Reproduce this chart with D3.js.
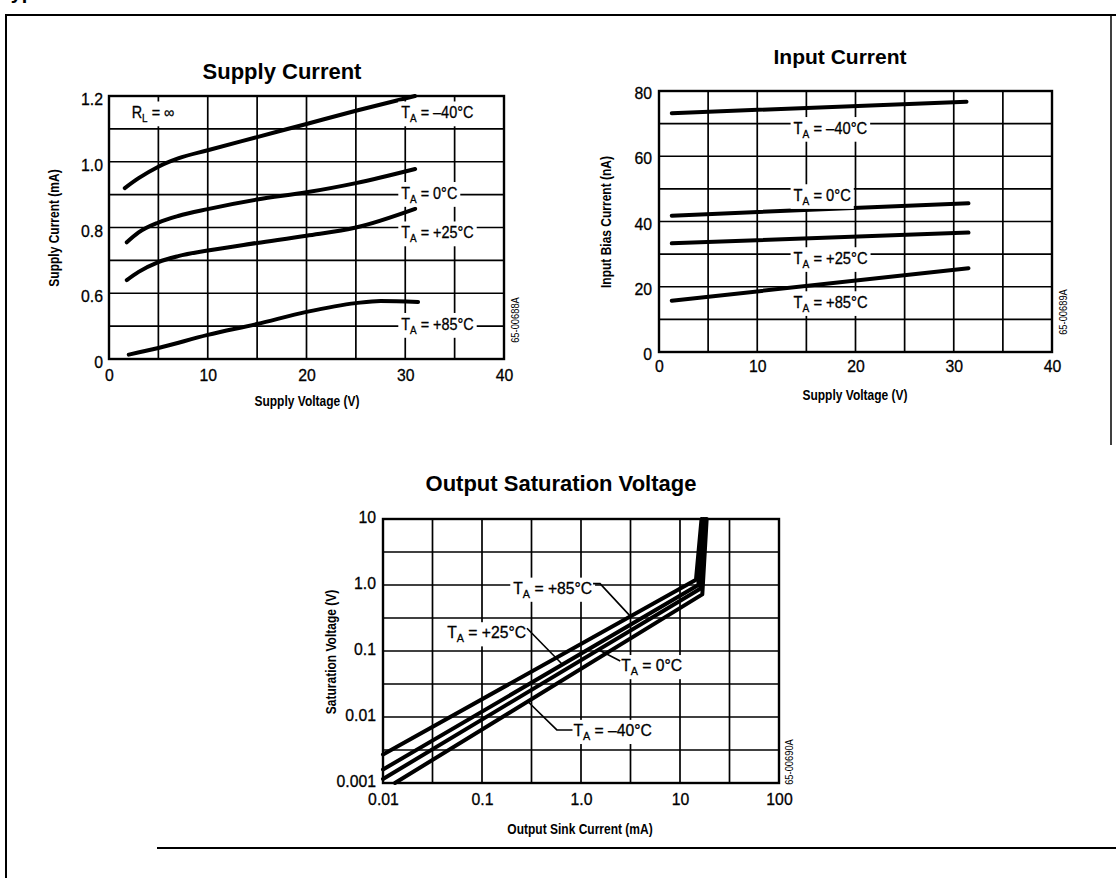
<!DOCTYPE html>
<html>
<head>
<meta charset="utf-8">
<script src="https://cdn.jsdelivr.net/npm/d3@7"></script>
<style>
  body { margin: 0; background: #fff; }
  svg { display: block; }
</style>
</head>
<body>
<svg id="sheet" width="1116" height="878"></svg>
<script>
// ---------- Supply current vs supply voltage (R_L = ∞) ----------
const supplyVoltageTicks = [0, 10, 20, 30, 40];
const supplyVoltageGrid = [5, 10, 15, 20, 25, 30, 35];
const supplyCurrentTicks = [0, 0.6, 0.8, 1.0, 1.2];
const supplyCurrentTickLabels = ["0", "0.6", "0.8", "1.0", "1.2"];
const supplyCurrentGrid = [0.3, 0.6, 0.7, 0.8, 0.9, 1.0, 1.1];
const supplyM40 = [[1.6, 0.92], [3, 0.95], [5, 0.985], [7, 1.01], [10, 1.035], [15, 1.075], [20, 1.115], [25, 1.155], [31, 1.2]];
const supply0 = [[1.8, 0.755], [3, 0.785], [5, 0.815], [7, 0.835], [10, 0.856], [15, 0.885], [20, 0.907], [25, 0.935], [31, 0.978]];
const supplyP25 = [[1.8, 0.64], [3, 0.665], [5, 0.695], [7, 0.713], [10, 0.73], [15, 0.753], [20, 0.775], [25, 0.8], [31, 0.857]];
const supplyP85 = [[2, 0.04], [5, 0.1], [10, 0.22], [15, 0.32], [20, 0.43], [25, 0.51], [27.5, 0.53], [31.3, 0.52]];

// ---------- Input bias current vs supply voltage ----------
const biasCurrentTicks = [0, 20, 40, 60, 80];
const biasCurrentGrid = [10, 20, 30, 40, 50, 60, 70];
const biasM40 = [[1.3, 73.2], [31.3, 76.7]];
const bias0 = [[1.3, 41.8], [31.5, 45.6]];
const biasP25 = [[1.3, 33.3], [31.5, 36.6]];
const biasP85 = [[1.3, 15.7], [31.5, 25.7]];

// ---------- Output saturation voltage vs sink current ----------
const sinkCurrentTicks = [0.01, 0.1, 1, 10, 100];
const sinkCurrentTickLabels = ["0.01", "0.1", "1.0", "10", "100"];
const satVoltageTicks = [0.001, 0.01, 0.1, 1, 10];
const satVoltageTickLabels = ["0.001", "0.01", "0.1", "1.0", "10"];
const satP85 = [[0.01, 0.0027], [14.5, 1.2], [16.5, 10]];
const satP25 = [[0.01, 0.0016], [15.3, 1.0], [17.2, 10]];
const sat0 = [[0.01, 0.00115], [16, 0.88], [17.9, 10]];
const satM40 = [[0.0132, 0.001], [16.8, 0.72], [18.6, 10]];

const temps = ["–40°C", "0°C", "+25°C", "+85°C"];

const SANS = '"Liberation Sans",Arial,Helvetica,sans-serif';

const svg = d3.select("#sheet");

// squeeze a text horizontally about its own anchor point
function condense(sel, sx) {
  sel.each(function () {
    const t = d3.select(this);
    const x = +(t.attr("x") || 0), y = +(t.attr("y") || 0);
    t.attr("transform", `translate(${x},${y}) scale(${sx},1) translate(${-x},${-y})`);
  });
}
// slightly heavier strokes, like the printed sheet
const ink = sel => sel.attr("stroke", "#000").attr("stroke-width", 0.3);

// page frame of the characteristics section
svg.append("text").attr("x", 0).attr("y", -1)
  .attr("font-family", SANS).attr("font-weight", "bold").attr("font-size", 20)
  .text("Typical Performance Characteristics");
svg.append("path").attr("d", "M6,878V15H1116").attr("fill", "none").attr("stroke", "#000").attr("stroke-width", 2);
svg.append("path").attr("d", "M1111,15V445").attr("fill", "none").attr("stroke", "#000").attr("stroke-width", 1.5);
svg.append("path").attr("d", "M157,848H1116").attr("fill", "none").attr("stroke", "#000").attr("stroke-width", 2);

function drawGrid(g, x, y, xs, ys) {
  const [xa, xb] = d3.extent(x.range());
  const [ya, yb] = d3.extent(y.range());
  g.append("g").selectAll("line").data(xs).join("line")
    .attr("x1", d => x(d)).attr("x2", d => x(d)).attr("y1", ya).attr("y2", yb)
    .attr("stroke", "#000").attr("stroke-width", 1.7);
  g.append("g").selectAll("line").data(ys).join("line")
    .attr("x1", xa).attr("x2", xb).attr("y1", d => y(d)).attr("y2", d => y(d))
    .attr("stroke", "#000").attr("stroke-width", 1.7);
}

function drawFrame(g, x, y) {
  const [xa, xb] = d3.extent(x.range());
  const [ya, yb] = d3.extent(y.range());
  g.append("rect").attr("x", xa).attr("y", ya).attr("width", xb - xa).attr("height", yb - ya)
    .attr("fill", "none").attr("stroke", "#000").attr("stroke-width", 2.4);
}

function drawAxes(g, x, y, xTicks, xFmt, yTicks, yFmt, xPad, yPad, yDy) {
  const [ya, yb] = d3.extent(y.range());
  const [xa] = d3.extent(x.range());
  const ax = g.append("g").attr("transform", `translate(0,${yb})`)
    .call(d3.axisBottom(x).tickValues(xTicks).tickFormat(xFmt).tickSize(0).tickPadding(xPad));
  const ay = g.append("g").attr("transform", `translate(${xa},0)`)
    .call(d3.axisLeft(y).tickValues(yTicks).tickFormat(yFmt).tickSize(0).tickPadding(yPad));
  [ax, ay].forEach(a => {
    a.select(".domain").remove();
    a.selectAll("text").attr("font-family", SANS).attr("font-size", 17).attr("fill", "#000")
      .call(ink).call(condense, 0.93);
  });
  ay.selectAll("text").attr("dy", yDy);
}

function drawSeries(g, x, y, series, curve) {
  const line = d3.line().x(d => x(d[0])).y(d => y(d[1])).curve(curve);
  g.append("g").selectAll("path").data(series).join("path")
    .attr("d", line).attr("fill", "none").attr("stroke", "#000")
    .attr("stroke-width", 4).attr("stroke-linecap", "round").attr("stroke-linejoin", "round");
}

// label with subscript, on a white patch that hides the grid behind it
function tagLabel(g, px, py, main, sub, rest, sx) {
  const holder = g.append("g").attr("transform", `translate(${px},${py}) scale(${sx},1)`);
  const t = holder.append("text").attr("dy", "0.36em")
    .attr("font-family", SANS).attr("font-size", 16).attr("fill", "#000").call(ink);
  t.append("tspan").text(main);
  if (sub) t.append("tspan").attr("font-size", 11).attr("dy", 4).text(sub);
  t.append("tspan").attr("dy", sub ? -4 : 0).text(rest);
  const b = t.node().getBBox();
  holder.insert("rect", () => t.node())
    .attr("x", b.x - 3 / sx).attr("y", b.y - 2).attr("width", b.width + 6 / sx).attr("height", b.height + 4)
    .attr("fill", "#fff");
  return { x: px + b.x * sx, y: py + b.y, width: b.width * sx, height: b.height };
}

function titles(g, title, tx, ty, tSize, xTitle, xx, xy, yTitle, yx, yy, code, cx, cy) {
  g.append("text").attr("x", tx).attr("y", ty).attr("text-anchor", "middle")
    .attr("font-family", SANS).attr("font-weight", "bold").attr("font-size", tSize).text(title);
  g.append("text").attr("x", xx).attr("y", xy).attr("text-anchor", "middle").attr("dy", "0.35em")
    .attr("font-family", SANS).attr("font-weight", "bold").attr("font-size", 15).text(xTitle)
    .call(condense, 0.8);
  g.append("text").attr("transform", `translate(${yx},${yy}) rotate(-90) scale(0.8,1)`).attr("text-anchor", "middle")
    .attr("dy", "0.35em").attr("font-family", SANS).attr("font-weight", "bold").attr("font-size", 15).text(yTitle);
  g.append("text").attr("transform", `translate(${cx},${cy}) rotate(-90) scale(0.85,1)`).attr("text-anchor", "middle")
    .attr("dy", "0.35em").attr("font-family", SANS).attr("font-size", 11).text(code);
}

// ---------- Supply Current ----------
{
  const g = svg.append("g");
  const x = d3.scaleLinear().domain([0, 40]).range([109, 504]);
  // axis jumps from 0 to 0.6 over two grid divisions
  const y = d3.scaleLinear().domain([0, 0.6, 1.2]).range([359, 359 - 2 * 263 / 8, 96]);
  drawGrid(g, x, y, supplyVoltageGrid, supplyCurrentGrid);
  drawSeries(g, x, y, [supplyM40, supply0, supplyP25, supplyP85], d3.curveMonotoneX);
  drawAxes(g, x, y, supplyVoltageTicks, d3.format("d"),
    supplyCurrentTicks, (d, i) => supplyCurrentTickLabels[i], 10, 6, "0.5em");
  tagLabel(g, x(2.3), y(1.15), "R", "L", " = ∞", 0.9);
  const pos = [1.15, 0.905, 0.785, 0.32];
  temps.forEach((t, i) => tagLabel(g, x(29.6), y(pos[i]), "T", "A", " = " + t, 0.9));
  drawFrame(g, x, y);
  titles(g, "Supply Current", 282, 79, 22, "Supply Voltage (V)", 307, 401,
    "Supply Current (mA)", 54, 228, "65-00688A", 515, 320);
}

// ---------- Input Current ----------
{
  const g = svg.append("g");
  const x = d3.scaleLinear().domain([0, 40]).range([659, 1052]);
  const y = d3.scaleLinear().domain([0, 80]).range([352, 91]);
  drawGrid(g, x, y, supplyVoltageGrid, biasCurrentGrid);
  drawSeries(g, x, y, [biasM40, bias0, biasP25, biasP85], d3.curveLinear);
  drawAxes(g, x, y, supplyVoltageTicks, d3.format("d"), biasCurrentTicks, d3.format("d"), 8, 7, "0.45em");
  const pos = [68.7, 48.1, 28.8, 15.3];
  temps.forEach((t, i) => tagLabel(g, x(13.7), y(pos[i]), "T", "A", " = " + t, 0.92));
  drawFrame(g, x, y);
  titles(g, "Input Current", 840, 64, 21, "Supply Voltage (V)", 855, 395,
    "Input Bias Current (nA)", 606, 222, "65-00689A", 1063, 312);
}

// ---------- Output Saturation Voltage ----------
{
  const g = svg.append("g");
  const x = d3.scaleLog().domain([0.01, 100]).range([383, 779]);
  const y = d3.scaleLog().domain([0.001, 10]).range([783, 519]);
  const xGrid = d3.range(-2, 2.01, 0.5).slice(1, -1).map(e => Math.pow(10, e));
  const yGrid = d3.range(-3, 1.01, 0.5).slice(1, -1).map(e => Math.pow(10, e));
  drawGrid(g, x, y, xGrid, yGrid);
  drawSeries(g, x, y, [satP85, satP25, sat0, satM40], d3.curveLinear);
  drawAxes(g, x, y, sinkCurrentTicks, (d, i) => sinkCurrentTickLabels[i],
    satVoltageTicks, (d, i) => satVoltageTickLabels[i], 10, 7, "0.2em");

  // value of a saturation curve at a given current (log-log interpolation)
  const at = (s, I) => {
    const lx = s.map(d => Math.log10(d[0])), ly = s.map(d => Math.log10(d[1]));
    return Math.pow(10, d3.scaleLinear().domain(lx).range(ly)(Math.log10(I)));
  };
  const leader = d3.line().x(d => x(d[0])).y(d => y(d[1]));
  const lead = pts => g.append("path").attr("d", leader(pts)).attr("fill", "none")
    .attr("stroke", "#000").attr("stroke-width", 1.6);
  const sx = 0.98;

  // +85 °C
  const b85 = tagLabel(g, x(0.207), y(0.9), "T", "A", " = " + temps[3], sx);
  lead([[x.invert(b85.x + b85.width + 1), y.invert(b85.y + 4)], [x.invert(b85.x + b85.width + 8), y.invert(b85.y + 4)], [3.16, at(satP85, 3.16)]]);
  // +25 °C
  const b25 = tagLabel(g, x(0.0445), y(0.19), "T", "A", " = " + temps[2], sx);
  lead([[x.invert(b25.x + b25.width + 1), y.invert(b25.y + 4)], [0.65, at(satP25, 0.65)]]);
  // 0 °C
  const b0 = tagLabel(g, x(2.55), y(0.0605), "T", "A", " = " + temps[1], sx);
  lead([[1.5, at(sat0, 1.5)], [x.invert(b0.x - 1), y.invert(b0.y + 4)]]);
  // -40 °C
  const bm = tagLabel(g, x(0.84), y(0.0063), "T", "A", " = " + temps[0], sx);
  lead([[0.29, at(satM40, 0.29)], [0.57, y.invert(bm.y + bm.height / 2 - 2)], [x.invert(bm.x - 1), y.invert(bm.y + bm.height / 2 - 2)]]);

  drawFrame(g, x, y);
  titles(g, "Output Saturation Voltage", 561, 491, 22, "Output Sink Current (mA)", 580, 829,
    "Saturation Voltage (V)", 331, 652, "65-00690A", 789, 762);
}
</script>
</body>
</html>
